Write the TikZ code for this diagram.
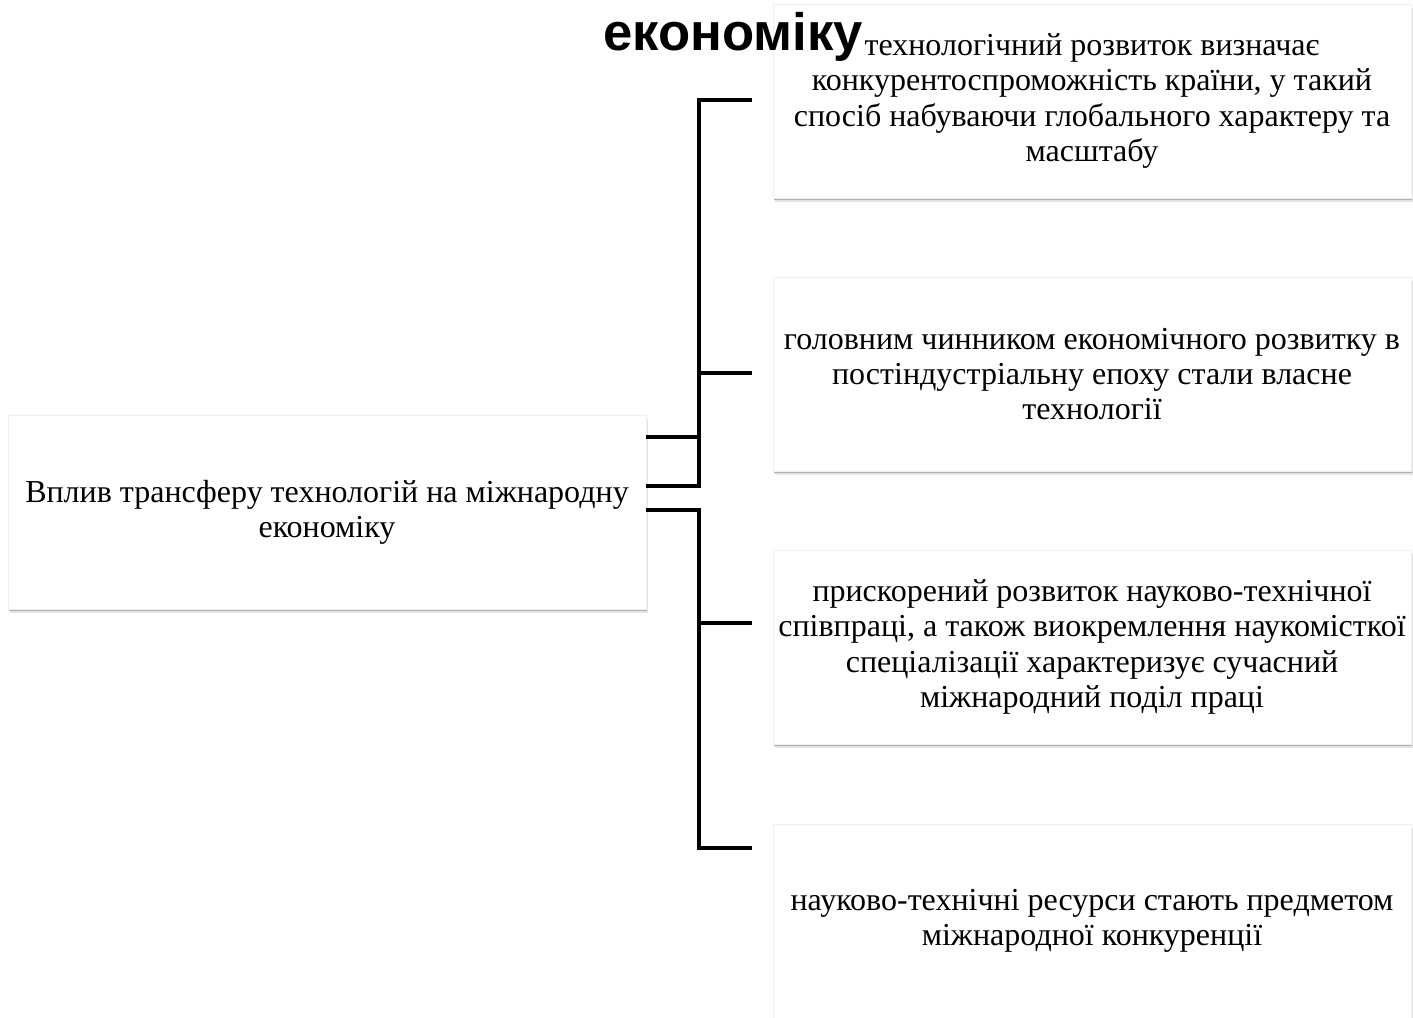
\documentclass[tikz,border=0pt]{standalone}
\usepackage{fontspec}
\setmainfont{Liberation Serif}
\newfontfamily\titlefont{Liberation Sans}
\usetikzlibrary{calc,shadows}
\tikzset{
  card/.style={rectangle, fill=white, draw=black!6, line width=0.4pt,
    minimum width=638*0.75pt, minimum height=194*0.75pt, inner sep=0pt,
    align=center, font=\fontsize{24pt}{26.4pt}\selectfont,
    general shadow={shadow xshift=1.4pt, shadow yshift=-3pt, fill=black!15, opacity=0.7},
    drop shadow={shadow xshift=0.7pt, shadow yshift=-1.6pt, fill=black!45, opacity=0.6}},
  conn/.style={draw=black, line width=3.2pt, line join=miter, line cap=rect},
  titletext/.style={font=\titlefont\bfseries\fontsize{39.5pt}{41pt}\selectfont, inner sep=0pt, anchor=base west}
}
\begin{document}
\begin{tikzpicture}[x=0.75pt,y=-0.75pt]
\useasboundingbox (0,0) rectangle (1413,1017);
\fill[white] (0,0) rectangle (1413,1017);
\node[card] (main) at (327,512) {Вплив трансферу технологій на міжнародну\\економіку};
\node[card] (r1) at (1092,101) {технологічний розвиток визначає\\конкурентоспроможність країни, у такий\\спосіб набуваючи глобального характеру та\\масштабу};
\node[card] (r2) at (1092,374) {головним чинником економічного розвитку в\\постіндустріальну епоху стали власне\\технології};
\node[card] (r3) at (1092,647) {прискорений розвиток науково-технічної\\співпраці, а також виокремлення наукомісткої\\спеціалізації характеризує сучасний\\міжнародний поділ праці};
\node[card] (r4) at (1092,921) {науково-технічні ресурси стають предметом\\міжнародної конкуренції};
\coordinate (m1) at ($(main.east)+(2,-26)$);
\coordinate (m2) at ($(main.east)+(2,-75)$);
\coordinate (m3) at ($(main.east)+(2,-2)$);
\coordinate (e1) at ($(r1.west)+(-23,-1)$);
\coordinate (e2) at ($(r2.west)+(-23,-1)$);
\coordinate (e3) at ($(r3.west)+(-23,-24)$);
\coordinate (e4) at ($(r4.west)+(-23,-73)$);
\draw[conn] (m1) -| ($(e1)+(-51,0)$) -- (e1);
\draw[conn] (m2) -| ($(e2)+(-51,0)$) -- (e2);
\draw[conn] (m3) -| ($(e3)+(-51,0)$) -- (e3);
\draw[conn] (m3) -| ($(e4)+(-51,0)$) -- (e4);
\node[titletext] (title) at (603,50) {економіку};
\end{tikzpicture}
\end{document}
